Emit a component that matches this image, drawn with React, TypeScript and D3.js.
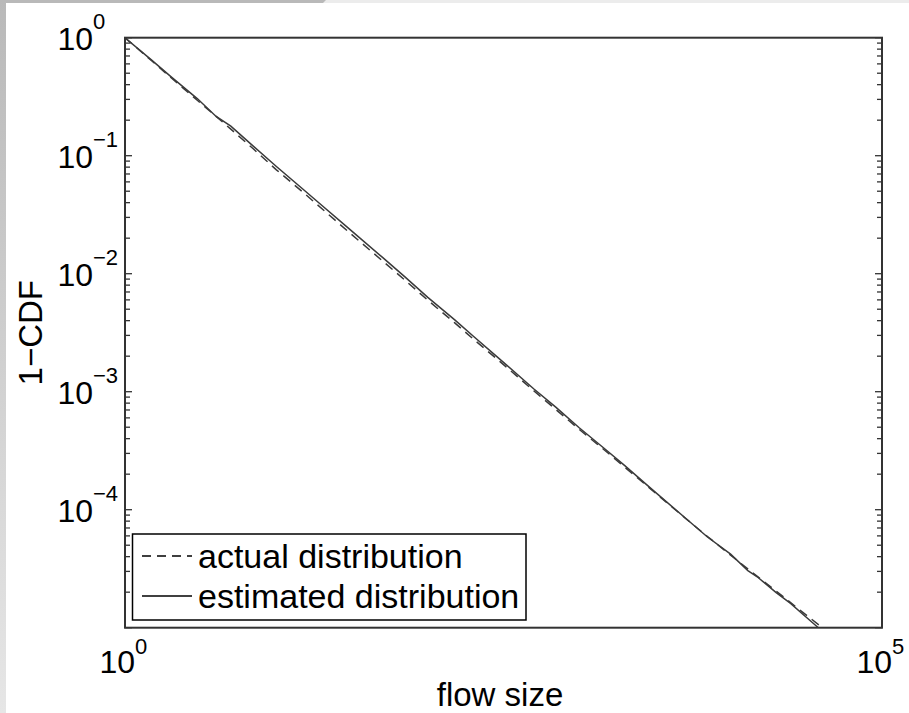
import React from "react";
import * as d3 from "d3";

// Flow sizes at which both tail distributions are sampled
const actualSizes = [1, 1.5, 2, 3, 5, 7, 10, 15, 20, 30, 50, 70, 100, 150, 200, 300, 500, 700, 1000, 1500, 2000, 3000, 5000, 7000, 10000, 15000, 20000, 30000, 40000, 45000];
// Complementary CDF of the actual flow-size distribution
const actualCcdf = [1, 0.638, 0.462, 0.295, 0.168, 0.115, 0.0759, 0.049, 0.0355, 0.0226, 0.0129, 0.0089, 0.00596, 0.00385, 0.00279, 0.0018, 0.00102, 0.000708, 0.000479, 0.000313, 0.000229, 0.000148, 0.0000851, 0.0000596, 0.0000412, 0.0000272, 0.0000204, 0.0000135, 0.0000101, 0.0000089];

const estimatedSizes = [1, 1.5, 2, 3, 4, 5, 7, 10, 15, 20, 30, 50, 70, 100, 150, 200, 300, 500, 700, 1000, 1500, 2000, 3000, 5000, 7000, 10000, 13000, 15000, 20000, 25000, 30000, 38000, 42000];
// Complementary CDF of the estimated flow-size distribution
const estimatedCcdf = [1, 0.645, 0.47, 0.305, 0.215, 0.178, 0.121, 0.081, 0.052, 0.0378, 0.0242, 0.0138, 0.0095, 0.0063, 0.00408, 0.00295, 0.00188, 0.00106, 0.00074, 0.000495, 0.000322, 0.000236, 0.00015, 0.0000855, 0.000059, 0.000042, 0.0000305, 0.000027, 0.0000198, 0.000016, 0.000013, 0.00001, 0.0000092];

const xTickExponents = [0, 5];
const yTickExponents = [0, -1, -2, -3, -4];
const yMajorExponents = [0, -1, -2, -3, -4, -5];
const minorMultipliers = [2, 3, 4, 5, 6, 7, 8, 9];

const legendLabels = ["actual distribution", "estimated distribution"];

const W = 909;
const H = 713;
const plot = { left: 125, right: 882, top: 37.7, bottom: 627.7 };

const FONT = "'Liberation Sans', Arial, sans-serif";

function sup(e: number) {
  return e < 0 ? "\u2212" + Math.abs(e) : String(e);
}

export default function App() {
  const x = d3.scaleLog().domain([1, 1e5]).range([plot.left, plot.right]);
  const y = d3.scaleLog().domain([1e-5, 1]).range([plot.bottom, plot.top]);

  const line = d3
    .line<[number, number]>()
    .x((d) => x(d[0]))
    .y((d) => y(d[1]));

  const actualPts = actualSizes.map((s, i) => [s, actualCcdf[i]] as [number, number]);
  const estPts = estimatedSizes.map((s, i) => [s, estimatedCcdf[i]] as [number, number]);

  const minorTicks: number[] = [];
  for (let e = -5; e < 0; e++) {
    for (const m of minorMultipliers) minorTicks.push(m * Math.pow(10, e));
  }

  const lineColor = "#3a3a3a";
  const legend = { x0: 132.5, y0: 534, x1: 526, y1: 620 };
  const legendRows = [556, 596];

  return (
    <svg
      width={W}
      height={H}
      style={{ position: "absolute", left: 0, top: 0, background: "#fff" }}
      fontFamily={FONT}
    >
      <defs>
        <linearGradient id="edge" x1="0" y1="0" x2="0" y2="1">
          <stop offset="0" stopColor="#b9b9b9" />
          <stop offset="1" stopColor="#e6e6e6" />
        </linearGradient>
        <clipPath id="plotClip">
          <rect x={plot.left} y={plot.top} width={plot.right - plot.left} height={plot.bottom - plot.top} />
        </clipPath>
      </defs>

      {/* window frame strips */}
      <rect x={0} y={0} width={W} height={3} fill="#ececec" />
      <polygon points="0,0 326,0 323,3 0,3" fill="#b9b9b9" />
      <rect x={0} y={0} width={6} height={H} fill="url(#edge)" />

      {/* data */}
      <g clipPath="url(#plotClip)" fill="none" stroke={lineColor} strokeWidth={1.5}>
        <path d={line(actualPts) ?? ""} strokeDasharray="9,6" />
        <path d={line(estPts) ?? ""} />
      </g>

      {/* y ticks on both sides */}
      <g stroke="#333" strokeWidth={1.3}>
        {yMajorExponents.map((e) => {
          const yy = y(Math.pow(10, e));
          return (
            <g key={"M" + e}>
              <line x1={plot.left} x2={plot.left + 7} y1={yy} y2={yy} />
              <line x1={plot.right} x2={plot.right - 7} y1={yy} y2={yy} />
            </g>
          );
        })}
        {minorTicks.map((v, i) => {
          const yy = y(v);
          return (
            <g key={"m" + i}>
              <line x1={plot.left} x2={plot.left + 5} y1={yy} y2={yy} />
              <line x1={plot.right} x2={plot.right - 5} y1={yy} y2={yy} />
            </g>
          );
        })}
      </g>

      {/* axes box */}
      <rect
        x={plot.left}
        y={plot.top}
        width={plot.right - plot.left}
        height={plot.bottom - plot.top}
        fill="none"
        stroke="#333"
        strokeWidth={2}
      />

      {/* y tick labels */}
      {yTickExponents.map((e) => {
        const yy = y(Math.pow(10, e));
        return (
          <g key={"yl" + e} fill="#000">
            <text x={93} y={yy + 12} fontSize={32} textAnchor="end">10</text>
            <text x={93} y={yy - 9} fontSize={22}>{sup(e)}</text>
          </g>
        );
      })}

      {/* x tick labels */}
      {xTickExponents.map((e) => {
        const xx = x(Math.pow(10, e));
        return (
          <g key={"xl" + e} fill="#000">
            <text x={xx + 10} y={673} fontSize={32} textAnchor="end">10</text>
            <text x={xx + 10} y={654} fontSize={22}>{sup(e)}</text>
          </g>
        );
      })}

      {/* axis titles */}
      <text x={500} y={706} fontSize={33} textAnchor="middle" fill="#000">flow size</text>
      <text
        transform={`translate(42,${(plot.top + plot.bottom) / 2}) rotate(-90)`}
        fontSize={33}
        textAnchor="middle"
        fill="#000"
      >
        1{"\u2212"}CDF
      </text>

      {/* legend */}
      <rect
        x={legend.x0}
        y={legend.y0}
        width={legend.x1 - legend.x0}
        height={legend.y1 - legend.y0}
        fill="#fff"
        stroke="#000"
        strokeWidth={1.5}
      />
      {legendLabels.map((lab, i) => (
        <g key={lab}>
          <line
            x1={142}
            x2={192}
            y1={legendRows[i]}
            y2={legendRows[i]}
            stroke="#000"
            strokeWidth={1.5}
            strokeDasharray={i === 0 ? "9,6" : undefined}
          />
          <text x={198} y={legendRows[i] + 12} fontSize={34} fill="#000">
            {lab}
          </text>
        </g>
      ))}
    </svg>
  );
}
